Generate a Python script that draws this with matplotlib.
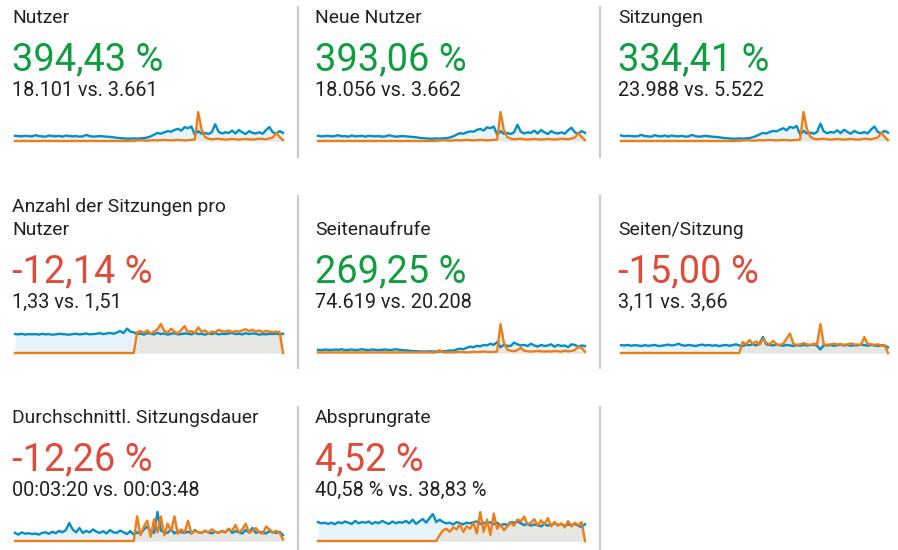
"""GA-style overview: eight KPI tiles with sparklines (current vs. previous period)."""

import matplotlib
matplotlib.use("Agg")
import matplotlib.pyplot as plt
import numpy as np

W, H = 898, 550

# ────────────────────────────────────────────────────────────────────────────
# DATA
# ────────────────────────────────────────────────────────────────────────────

titles = ["Nutzer", "Neue Nutzer", "Sitzungen",
          "Anzahl der Sitzungen pro\nNutzer", "Seitenaufrufe", "Seiten/Sitzung",
          "Durchschnittl. Sitzungsdauer", "Absprungrate"]
changes = ["394,43 %", "393,06 %", "334,41 %",
           "-12,14 %", "269,25 %", "-15,00 %",
           "-12,26 %", "4,52 %"]
good = [True, True, True, False, True, False, False, False]
compare = ["18.101 vs. 3.661", "18.056 vs. 3.662", "23.988 vs. 5.522",
           "1,33 vs. 1,51", "74.619 vs. 20.208", "3,11 vs. 3,66",
           "00:03:20 vs. 00:03:48", "40,58 % vs. 38,83 %"]

# current period (blue) / previous period (orange), one value per sample
nutzer_cur = [18, 17, 16, 18, 17, 16, 20, 17, 16, 15,
              19, 17, 16, 18, 15, 19, 17, 16, 17, 15,
              16, 21, 17, 15, 16, 17, 16, 15, 14, 13,
              11, 10, 9, 8, 8, 9, 8, 9, 10, 12,
              16, 22, 28, 25, 30, 34, 32, 38, 42, 36,
              48, 44, 50, 22, 34, 25, 28, 24, 30, 58,
              32, 26, 30, 28, 36, 26, 38, 30, 24, 34,
              28, 26, 30, 25, 38, 48, 30, 26, 34, 28]
nutzer_prev = [0] * 36 + [2, 3, 2, 1, 2, 3, 2, 3, 4, 3,
                          2, 3, 4, 3, 2, 3, 4, 5, 100, 40,
                          14, 8, 6, 7, 8, 6, 5, 6, 7, 6,
                          5, 6, 7, 6, 5, 6, 8, 7, 6, 9,
                          12, 28, 14, 3]

neu_cur = [18, 16, 17, 18, 16, 17, 20, 16, 17, 15,
           19, 16, 17, 18, 15, 18, 17, 16, 17, 15,
           16, 20, 17, 15, 16, 17, 16, 15, 14, 13,
           11, 10, 9, 8, 8, 9, 8, 9, 10, 12,
           16, 22, 27, 25, 30, 33, 32, 38, 42, 36,
           47, 44, 50, 22, 34, 25, 28, 24, 30, 56,
           32, 26, 30, 28, 36, 26, 38, 30, 24, 34,
           28, 26, 30, 25, 37, 46, 30, 26, 34, 28]
neu_prev = [0] * 36 + [2, 3, 2, 1, 2, 3, 2, 3, 4, 3,
                       2, 3, 4, 3, 2, 3, 4, 5, 100, 38,
                       14, 8, 6, 7, 8, 6, 5, 6, 7, 6,
                       5, 6, 7, 6, 5, 6, 8, 7, 6, 9,
                       12, 27, 14, 3]

sitz_cur = [19, 17, 18, 17, 16, 17, 21, 17, 16, 15,
            20, 17, 16, 19, 15, 19, 17, 16, 18, 15,
            16, 21, 17, 15, 16, 18, 16, 15, 14, 13,
            11, 10, 9, 8, 8, 9, 8, 9, 10, 13,
            17, 23, 28, 26, 31, 35, 33, 39, 44, 37,
            49, 45, 52, 22, 35, 26, 29, 25, 31, 60,
            33, 27, 31, 29, 37, 27, 39, 31, 25, 35,
            29, 27, 31, 26, 40, 50, 31, 27, 35, 29]
sitz_prev = [0] * 36 + [2, 3, 2, 1, 2, 3, 2, 3, 4, 3,
                        2, 3, 4, 3, 2, 3, 4, 5, 100, 42,
                        15, 8, 6, 7, 8, 6, 5, 6, 7, 6,
                        5, 6, 7, 6, 5, 6, 8, 7, 6, 9,
                        12, 29, 14, 3]

spn_cur = [62, 61, 63, 60, 62, 61, 62, 60, 63, 61,
           62, 60, 61, 63, 62, 61, 60, 62, 63, 61,
           62, 64, 61, 62, 63, 65, 62, 64, 66, 63,
           67, 72, 65, 80, 70, 68, 62, 64, 60, 65,
           63, 61, 66, 62, 64, 60, 63, 65, 61, 62,
           64, 63, 61, 66, 62, 63, 60, 64, 62, 65,
           61, 63, 62, 64, 66, 62, 63, 61, 65, 62,
           64, 63, 60, 62, 61, 63, 62, 64, 61, 63]
spn_prev = [0] * 36 + [68, 72, 66, 74, 64, 70, 78, 95, 72, 66,
                       80, 70, 64, 76, 88, 68, 72, 66, 84, 70,
                       74, 64, 70, 68, 76, 72, 70, 74, 68, 72,
                       70, 74, 78, 72, 76, 70, 74, 68, 72, 70,
                       68, 70, 69, 0]

views_cur = [11, 10, 12, 11, 10, 12, 11, 13, 10, 11,
             12, 10, 11, 13, 11, 10, 12, 11, 10, 11,
             12, 10, 11, 13, 11, 10, 9, 8, 7, 6,
             6, 5, 5, 6, 5, 5, 5, 6, 7, 9,
             8, 12, 15, 13, 18, 22, 20, 25, 23, 28,
             26, 32, 28, 38, 20, 28, 25, 24, 36, 30,
             26, 28, 24, 32, 26, 22, 28, 24, 26, 30,
             22, 28, 24, 26, 20, 30, 28, 22, 26, 24]
views_prev = [2] * 36 + [10, 2, 2, 3, 2, 3, 4, 3, 2, 3,
                         4, 3, 4, 5, 4, 3, 4, 5, 100, 35,
                         12, 8, 6, 10, 18, 8, 6, 5, 6, 7,
                         6, 5, 6, 5, 7, 6, 5, 8, 6, 7,
                         10, 22, 18, 4]

pps_cur = [27, 26, 28, 25, 27, 26, 24, 27, 25, 26,
           28, 24, 25, 27, 29, 26, 28, 32, 27, 25,
           28, 26, 24, 27, 29, 26, 28, 25, 27, 24,
           26, 28, 25, 27, 30, 26, 24, 28, 27, 30,
           26, 34, 55, 30, 28, 26, 29, 27, 25, 28,
           26, 24, 27, 25, 28, 26, 27, 29, 25, 12,
           27, 26, 28, 25, 27, 29, 26, 28, 25, 27,
           26, 29, 27, 25, 28, 26, 24, 27, 25, 20]
pps_prev = [0] * 36 + [38, 30, 45, 32, 40, 28, 48, 35, 30, 42,
                       30, 28, 32, 50, 67, 32, 28, 30, 34, 30,
                       28, 32, 30, 100, 30, 28, 30, 32, 29, 31,
                       28, 30, 33, 30, 29, 28, 55, 31, 30, 28,
                       30, 26, 28, 0]

dauer_cur = [28, 22, 30, 25, 27, 24, 26, 22, 28, 30,
             25, 32, 27, 35, 30, 38, 62, 40, 30, 45,
             28, 35, 30, 40, 32, 28, 34, 26, 38, 30,
             28, 36, 30, 24, 34, 22, 30, 26, 40, 50,
             32, 28, 100, 36, 30, 28, 40, 26, 34, 30,
             28, 32, 26, 38, 30, 28, 34, 30, 26, 32,
             28, 35, 30, 42, 28, 34, 30, 26, 38, 30,
             45, 28, 32, 30, 26, 34, 30, 28, 32, 20]
dauer_prev = [0] * 36 + [85, 20, 50, 70, 15, 75, 30, 85, 20, 60,
                         35, 85, 25, 40, 30, 70, 25, 35, 30, 28,
                         36, 30, 40, 32, 28, 34, 30, 42, 35, 55,
                         30, 40, 60, 28, 35, 45, 30, 25, 50, 40,
                         30, 35, 28, 5]

bounce_cur = [62, 58, 60, 56, 60, 55, 62, 58, 64, 60,
              56, 66, 58, 62, 60, 64, 56, 62, 58, 66,
              60, 56, 64, 58, 62, 60, 66, 58, 70, 56,
              64, 72, 60, 75, 88, 62, 70, 62, 58, 60,
              54, 62, 58, 55, 60, 58, 62, 64, 56, 60,
              58, 62, 55, 60, 50, 56, 52, 62, 60, 64,
              58, 52, 56, 50, 54, 52, 48, 56, 50, 54,
              58, 52, 56, 50, 54, 52, 56, 50, 46, 55]
bounce_prev = [0] * 36 + [20, 35, 40, 30, 45, 38, 55, 30, 48, 40,
                          60, 25, 95, 30, 70, 20, 90, 40, 55, 35,
                          48, 60, 50, 70, 65, 80, 55, 60, 72, 50,
                          68, 55, 75, 48, 62, 50, 58, 45, 65, 48,
                          60, 52, 62, 0]

series = [(nutzer_cur, nutzer_prev), (neu_cur, neu_prev), (sitz_cur, sitz_prev),
          (spn_cur, spn_prev), (views_cur, views_prev), (pps_cur, pps_prev),
          (dauer_cur, dauer_prev), (bounce_cur, bounce_prev)]

# ────────────────────────────────────────────────────────────────────────────
# LAYOUT (pixels)
# ────────────────────────────────────────────────────────────────────────────

COL_X = [12, 315, 618]
SPARK_X = [(15, 283), (318, 585), (621, 888)]
ROW_OFF = [0, 212, 400]          # text / sparkline vertical offset per row
CELL_Y = [(7, 157), (196, 368), (407, 552)]
DIV_X = [298, 600]

BLUE = "#058dc7"
ORANGE = "#ed7e17"
BLUE_FILL = "#e6f3fa"
GRAY_FILL = "#e6e6e2"
GREEN = "#0f9d3f"
RED = "#dd4b39"
TEXT = "#212121"
FONT = "Roboto"


def fy(py):
    return 1 - py / H


fig = plt.figure(figsize=(W / 100, H / 100), dpi=100)
fig.patch.set_facecolor("white")

for i in range(8):
    row, col = divmod(i, 3)
    x0 = COL_X[col]
    off = ROW_OFF[row]

    # title, last line sits on the common baseline
    lines = titles[i].split("\n")
    for k, line in enumerate(lines):
        base = 23 + off - 23 * (len(lines) - 1 - k)
        fig.text(x0 / W, fy(base), line, fontsize=13.9, color=TEXT,
                 family=FONT, va="baseline")

    fig.text(x0 / W, fy(70.5 + off), changes[i], fontsize=27.4,
             color=GREEN if good[i] else RED, family=FONT, va="baseline")
    fig.text(x0 / W, fy(96 + off), compare[i], fontsize=14.3, color=TEXT,
             family=FONT, va="baseline")

    cur, prev = series[i]
    sx0, sx1 = SPARK_X[col]
    top, bot = 112 + off, 141 + off
    ax = fig.add_axes([sx0 / W, fy(bot), (sx1 - sx0) / W, (bot - top) / H])
    xc = np.linspace(0, 1, len(cur))
    xp = np.linspace(0, 1, len(prev))
    ax.fill_between(xc, cur, 0, color=BLUE_FILL, lw=0)
    ax.fill_between(xp, prev, 0, color=GRAY_FILL, lw=0)
    ax.plot(xc, cur, color=BLUE, lw=1.7, clip_on=False, solid_joinstyle="round")
    ax.plot(xp, prev, color=ORANGE, lw=1.7, clip_on=False, solid_joinstyle="round")
    ax.set_xlim(0, 1)
    ax.set_ylim(0, max(max(cur), max(prev)))
    ax.axis("off")

# vertical dividers between the tiles
for y0, y1 in CELL_Y:
    for dx in DIV_X:
        fig.add_artist(plt.Line2D([dx / W, dx / W], [fy(y0), fy(y1)],
                                  color="#cccccc", lw=1.6))

fig.savefig("out.png", dpi=100, facecolor="white")
